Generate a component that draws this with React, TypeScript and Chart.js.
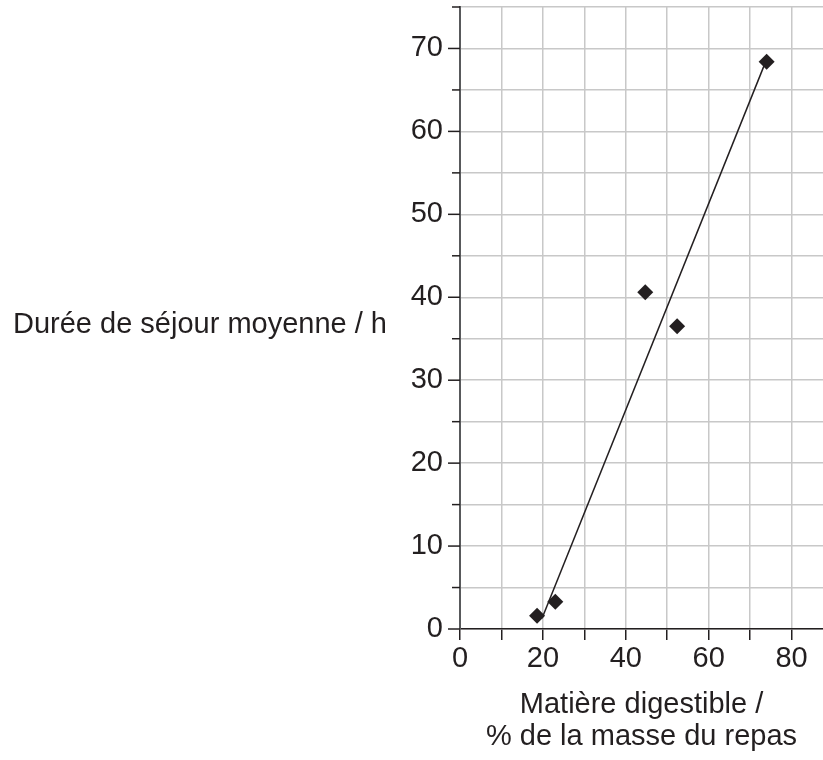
import React, { useEffect, useRef } from 'react';
import { Chart, registerables } from 'chart.js';

Chart.register(...registerables);

// Measured points (x: % digestible matter, y: mean residence time / h)
const pointsX = [18.6, 23.0, 44.7, 52.4, 74.0];
const pointsY = [1.6, 3.3, 40.6, 36.5, 68.4];
// Fitted straight line end points
const lineX = [19.8, 73.6];
const lineY = [1.3, 68.2];

// Axis tick positions (grid lines) and which of them carry labels
const xTicks = [0, 10, 20, 30, 40, 50, 60, 70, 80];
const xTickLabels = [0, 20, 40, 60, 80];
const yTicks = [0, 5, 10, 15, 20, 25, 30, 35, 40, 45, 50, 55, 60, 65, 70, 75];
const yTickLabels = [0, 10, 20, 30, 40, 50, 60, 70];

const xMin = 0;
const xMax = 87.6;
const yMin = 0;
const yMax = 75;

const yTitle = 'Durée de séjour moyenne / h';
const xTitle = ['Matière digestible /', '% de la masse du repas'];

const FONT = '"Liberation Sans", Arial, Helvetica, sans-serif';
const INK = '#231f20';
const GRID = '#c8c8c8';

const W = 823;
const H = 760;

const hasLabel = (v: number, list: number[]) => list.some((l) => Math.abs(l - v) < 1e-6);

export default function App() {
  const ref = useRef<HTMLCanvasElement | null>(null);

  useEffect(() => {
    if (!ref.current) return;

    const decor = {
      id: 'decor',
      afterDraw(chart: any) {
        const { ctx, scales, chartArea } = chart;
        const y = scales.y;
        ctx.save();
        // y-axis tick marks (major longer than minor)
        ctx.strokeStyle = INK;
        ctx.lineWidth = 1.5;
        y.ticks.forEach((t: any) => {
          const py = y.getPixelForValue(t.value);
          const len = hasLabel(t.value, yTickLabels) ? 12 : 8;
          ctx.beginPath();
          ctx.moveTo(chartArea.left - len, py);
          ctx.lineTo(chartArea.left, py);
          ctx.stroke();
        });
        // horizontal y-axis title
        ctx.fillStyle = INK;
        ctx.font = `29px ${FONT}`;
        ctx.textAlign = 'left';
        ctx.textBaseline = 'alphabetic';
        ctx.fillText(yTitle, 13, 333);
        ctx.restore();
      },
    };

    const chart = new Chart(ref.current, {
      type: 'scatter',
      data: {
        datasets: [
          {
            type: 'line',
            data: lineX.map((x, i) => ({ x, y: lineY[i] })),
            borderColor: INK,
            borderWidth: 1.5,
            pointRadius: 0,
            fill: false,
          },
          {
            data: pointsX.map((x, i) => ({ x, y: pointsY[i] })),
            pointStyle: 'rectRot',
            pointRadius: 8,
            backgroundColor: INK,
            borderColor: INK,
            borderWidth: 0,
          },
        ],
      },
      options: {
        animation: false,
        responsive: false,
        devicePixelRatio: 1,
        layout: { autoPadding: false, padding: { top: 7, left: 0, right: 0, bottom: 0 } },
        plugins: { legend: { display: false }, tooltip: { enabled: false } },
        scales: {
          x: {
            type: 'linear',
            min: xMin,
            max: xMax,
            afterBuildTicks: (s: any) => {
              s.ticks = xTicks.map((v) => ({ value: v }));
            },
            afterFit: (s: any) => {
              s.height = 131;
              s.paddingLeft = 0;
              s.paddingRight = 0;
            },
            ticks: {
              autoSkip: false,
              maxRotation: 0,
              padding: 2,
              color: INK,
              font: { family: FONT, size: 29 },
              callback: (v: any) => (hasLabel(Number(v), xTickLabels) ? String(v) : ''),
            },
            grid: {
              color: GRID,
              lineWidth: 1.5,
              drawTicks: true,
              tickLength: 11,
              tickColor: INK,
              tickWidth: 1.5,
            },
            border: { color: INK, width: 1.5 },
            title: {
              display: true,
              text: xTitle,
              color: INK,
              font: { family: FONT, size: 29, lineHeight: 1.1 },
              padding: { top: 0, bottom: 7 },
            },
          },
          y: {
            type: 'linear',
            min: yMin,
            max: yMax,
            afterBuildTicks: (s: any) => {
              s.ticks = yTicks.map((v) => ({ value: v }));
            },
            afterFit: (s: any) => {
              s.width = 460;
              s.paddingTop = 0;
              s.paddingBottom = 0;
            },
            ticks: {
              autoSkip: false,
              padding: 17,
              color: INK,
              font: { family: FONT, size: 29 },
              callback: (v: any) => (hasLabel(Number(v), yTickLabels) ? String(v) : ''),
            },
            grid: {
              color: GRID,
              lineWidth: 1.5,
              drawTicks: false,
            },
            border: { color: '#58595b', width: 2 },
          },
        },
      },
      plugins: [decor],
    } as any);

    return () => chart.destroy();
  }, []);

  return (
    <div style={{ position: 'absolute', left: 0, top: 0, width: W, height: H, background: '#fff' }}>
      <canvas ref={ref} width={W} height={H} style={{ display: 'block', width: W, height: H }} />
    </div>
  );
}
